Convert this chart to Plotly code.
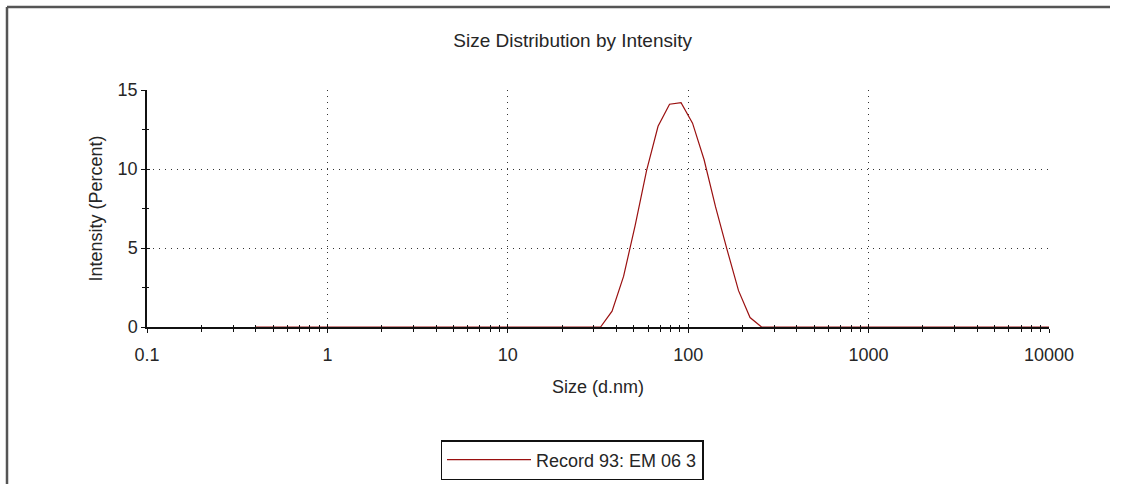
import plotly.graph_objects as go

# Size bins (d.nm) and intensity (%)
sizes = [0.4, 0.4632, 0.5365, 0.6213, 0.7195, 0.8332, 0.9649, 1.117, 1.294, 1.499,
         1.736, 2.010, 2.328, 2.696, 3.122, 3.615, 4.187, 4.849, 5.615, 6.503,
         7.531, 8.721, 10.10, 11.70, 13.54, 15.69, 18.17, 21.04, 24.36, 28.21,
         32.67, 37.84, 43.82, 50.75, 58.77, 68.06, 78.82, 91.28, 105.7, 122.4,
         141.8, 164.2, 190.1, 220.2, 255.0, 295.3, 342.0, 396.1, 458.7, 531.2,
         615.1, 712.4, 825.0, 955.4, 1106, 1281, 1484, 1718, 1990, 2305,
         2669, 3091, 3580, 4145, 4801, 5560, 6439, 7456, 8635, 10000]
intensity = [0, 0, 0, 0, 0, 0, 0, 0, 0, 0,
             0, 0, 0, 0, 0, 0, 0, 0, 0, 0,
             0, 0, 0, 0, 0, 0, 0, 0, 0, 0,
             0, 1.0, 3.2, 6.4, 9.9, 12.7, 14.1, 14.2, 12.9, 10.6,
             7.6, 4.9, 2.3, 0.6, 0, 0, 0, 0, 0, 0,
             0, 0, 0, 0, 0, 0, 0, 0, 0, 0,
             0, 0, 0, 0, 0, 0, 0, 0, 0, 0]

x_tickvals = [0.1, 1, 10, 100, 1000, 10000]
x_ticktext = ["0.1", "1", "10", "100", "1000", "10000"]
y_tickvals = [0, 5, 10, 15]

FONT = "Liberation Sans, Arial, sans-serif"
TXT = "#262626"

fig = go.Figure()
fig.add_trace(go.Scatter(x=sizes, y=intensity, mode="lines",
                         name="Record 93: EM 06 3",
                         line=dict(color="#9a1010", width=1.2)))

W, H = 1134, 488
L, R, T, B = 147, 1049, 90, 327

def px(p):
    return (p - L) / (R - L)

def py(q):
    return (B - q) / (B - T)

grid = dict(showgrid=True, gridcolor="#333333", gridwidth=1.2, griddash="1px,5px")

fig.update_layout(
    width=W, height=H,
    margin=dict(l=L, r=W - R, t=T, b=H - B, pad=0, autoexpand=False),
    paper_bgcolor="white", plot_bgcolor="white",
    font=dict(family=FONT, size=18, color=TXT),
    title=dict(text="Size Distribution by Intensity", x=0.505, xanchor="center",
               y=1 - 40 / H, yanchor="middle", font=dict(size=19, color=TXT)),
    showlegend=True,
    legend=dict(x=px(572), xanchor="center", y=py(440), yanchor="top",
                bordercolor="#111111", borderwidth=1.5, bgcolor="white",
                font=dict(size=18, color=TXT), itemwidth=84,
                tracegroupgap=0),
    xaxis=dict(type="log", range=[-1, 4], tickvals=x_tickvals, ticktext=x_ticktext,
               ticks="outside", ticklen=4, tickcolor="#111111", tickwidth=1.3,
               minor=dict(ticks="outside", ticklen=3, tickcolor="#111111", tickwidth=1,
                          dtick="D1", showgrid=False),
               showline=True, linecolor="#111111", linewidth=1.5, zeroline=False,
               ticklabelstandoff=7, tickfont=dict(size=18, color=TXT),
               title=dict(text="Size (d.nm)", standoff=16, font=dict(size=18, color=TXT)),
               **grid),
    yaxis=dict(range=[0, 15], tickvals=y_tickvals,
               ticks="outside", ticklen=4, tickcolor="#111111", tickwidth=1.3,
               minor=dict(ticks="outside", ticklen=3, tickcolor="#111111", tickwidth=1,
                          dtick=2.5, showgrid=False),
               showline=True, linecolor="#111111", linewidth=1.5, zeroline=False,
               tickfont=dict(size=18, color=TXT),
               title=dict(text="Intensity (Percent)", standoff=10, font=dict(size=18, color=TXT)),
               **grid),
    xaxis2=dict(type="log", range=[-1, 4], overlaying="x", anchor="y", side="bottom",
                tickvals=x_tickvals, showticklabels=False, showgrid=False, zeroline=False,
                ticks="inside", ticklen=3, tickcolor="#111111", tickwidth=1.3,
                minor=dict(ticks="inside", ticklen=2, tickcolor="#111111", tickwidth=1,
                           dtick="D1", showgrid=False)),
    yaxis2=dict(range=[0, 15], overlaying="y", anchor="x", side="left",
                tickvals=y_tickvals, showticklabels=False, showgrid=False, zeroline=False,
                ticks="inside", ticklen=3, tickcolor="#111111", tickwidth=1.3,
                minor=dict(ticks="inside", ticklen=2, tickcolor="#111111", tickwidth=1,
                           dtick=2.5, showgrid=False)),
)

# invisible trace so the overlay axes render
fig.add_trace(go.Scatter(x=[sizes[0]], y=[intensity[0]], xaxis="x2", yaxis="y2",
                         mode="markers", marker=dict(opacity=0), showlegend=False,
                         hoverinfo="skip"))

# outer frame (left and top edges)
fig.add_shape(type="line", xref="paper", yref="paper",
              x0=px(7), x1=px(1110), y0=py(7), y1=py(7),
              line=dict(color="#555555", width=2.5))
fig.add_shape(type="line", xref="paper", yref="paper",
              x0=px(7), x1=px(7), y0=py(7), y1=py(484),
              line=dict(color="#555555", width=2.5))

fig.write_html("out.html")
